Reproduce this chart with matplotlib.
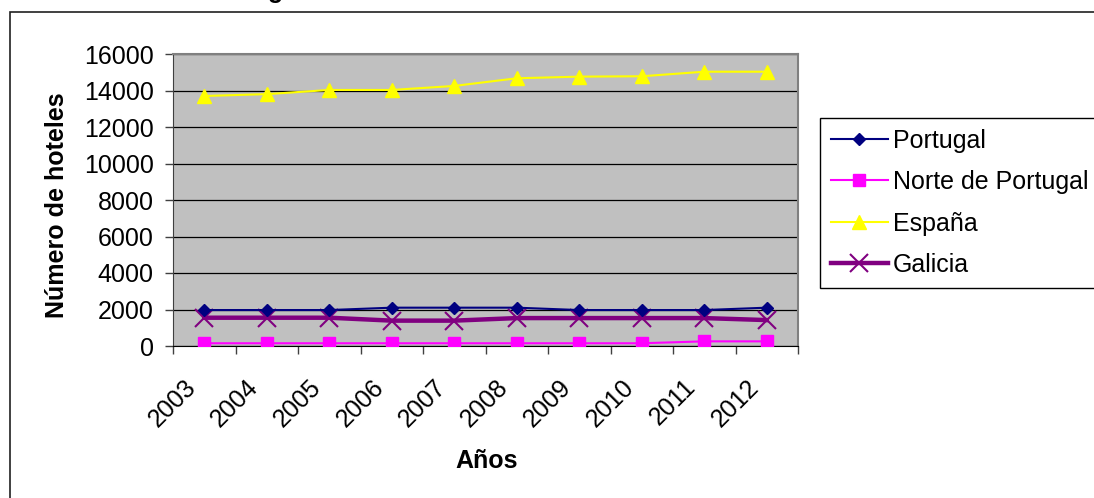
import matplotlib
matplotlib.use("Agg")
import matplotlib.pyplot as plt
import matplotlib.transforms as mtransforms
from matplotlib.patches import Rectangle

plt.rcParams['font.family'] = ['Liberation Sans', 'DejaVu Sans']

# numero de hoteles por ano
anos = ['2003', '2004', '2005', '2006', '2007', '2008', '2009', '2010', '2011', '2012']
portugal = [1970, 1970, 1970, 2100, 2100, 2100, 1970, 1970, 1970, 2100]
norte_portugal = [150, 150, 150, 150, 150, 150, 150, 150, 255, 255]
espana = [13700, 13800, 14030, 14030, 14250, 14670, 14760, 14780, 15030, 15030]
galicia = [1550, 1550, 1550, 1390, 1390, 1530, 1530, 1530, 1530, 1420]

W, H = 1094, 498
fig = plt.figure(figsize=(W / 100, H / 100), dpi=100)
ax = fig.add_axes([173 / W, 1 - 346 / H, (798 - 173) / W, (346 - 54) / H])
ax.set_facecolor('#C0C0C0')

x = [i + 0.5 for i in range(len(anos))]
ax.plot(x, portugal, color='#000080', lw=1.5, marker='D', ms=6.5, label='Portugal', zorder=4)
ax.plot(x, norte_portugal, color='#FF00FF', lw=1.5, marker='s', ms=8.5, label='Norte de Portugal', zorder=4)
ax.plot(x, espana, color='#FFFF00', lw=1.5, marker='^', ms=10, label='España', zorder=4)
ax.plot(x, galicia, color='#800080', lw=3.2, marker='x', ms=13, mew=1.5, label='Galicia', zorder=3)

ax.set_xlim(0, len(anos))
ax.set_ylim(0, 16000)
ax.set_yticks(range(0, 16001, 2000))
ax.yaxis.grid(True, color='black', lw=0.9)
ax.set_axisbelow(True)

# ticks entre categorias, etiquetas en el centro
ax.set_xticks(range(len(anos) + 1))
ax.set_xticklabels([])
ax.set_xticks(x, minor=True)
ax.set_xticklabels(anos, minor=True, rotation=45, ha='right', rotation_mode='anchor', va='center')
ax.tick_params(axis='x', which='minor', length=0, pad=27, labelsize=18)
ax.tick_params(axis='x', which='major', length=6, width=1, direction='out', color='#404040')
ax.tick_params(axis='y', length=6, width=1, direction='out', labelsize=18, pad=8, color='#404040')
shift = mtransforms.ScaledTranslation(-12 / 100, 0, fig.dpi_scale_trans)
for lbl in ax.get_xticklabels(minor=True):
    lbl.set_transform(lbl.get_transform() + shift)

for s in ['top', 'right']:
    ax.spines[s].set_color('#808080')
    ax.spines[s].set_linewidth(1.5)
ax.spines['left'].set_color('#404040')
ax.spines['bottom'].set_color('black')

fig.text(57 / W, 1 - 205 / H, 'Número de hoteles', rotation=90, ha='center', va='center',
         fontsize=18, fontweight='bold')
fig.text(487 / W, 1 - 461 / H, 'Años', ha='center', va='center', fontsize=18, fontweight='bold')
fig.text(268 / W, 1 + 2 / H, 'g', ha='left', va='baseline', fontsize=18, fontweight='bold')

# marco exterior
fig.patches.append(Rectangle((10 / W, -0.1), 1.2, 1 - 12 / H + 0.1, transform=fig.transFigure,
                             fill=False, edgecolor='#202020', lw=1.2))

leg = fig.legend(loc='upper left', bbox_to_anchor=(820 / W, 1 - 118 / H), fontsize=18,
                 frameon=True, fancybox=False, edgecolor='black', framealpha=1,
                 handlelength=2.3, handletextpad=0.2, labelspacing=0.7, borderpad=0.42,
                 borderaxespad=0)
leg.get_frame().set_linewidth(1)

fig.savefig('out.png', dpi=100)
